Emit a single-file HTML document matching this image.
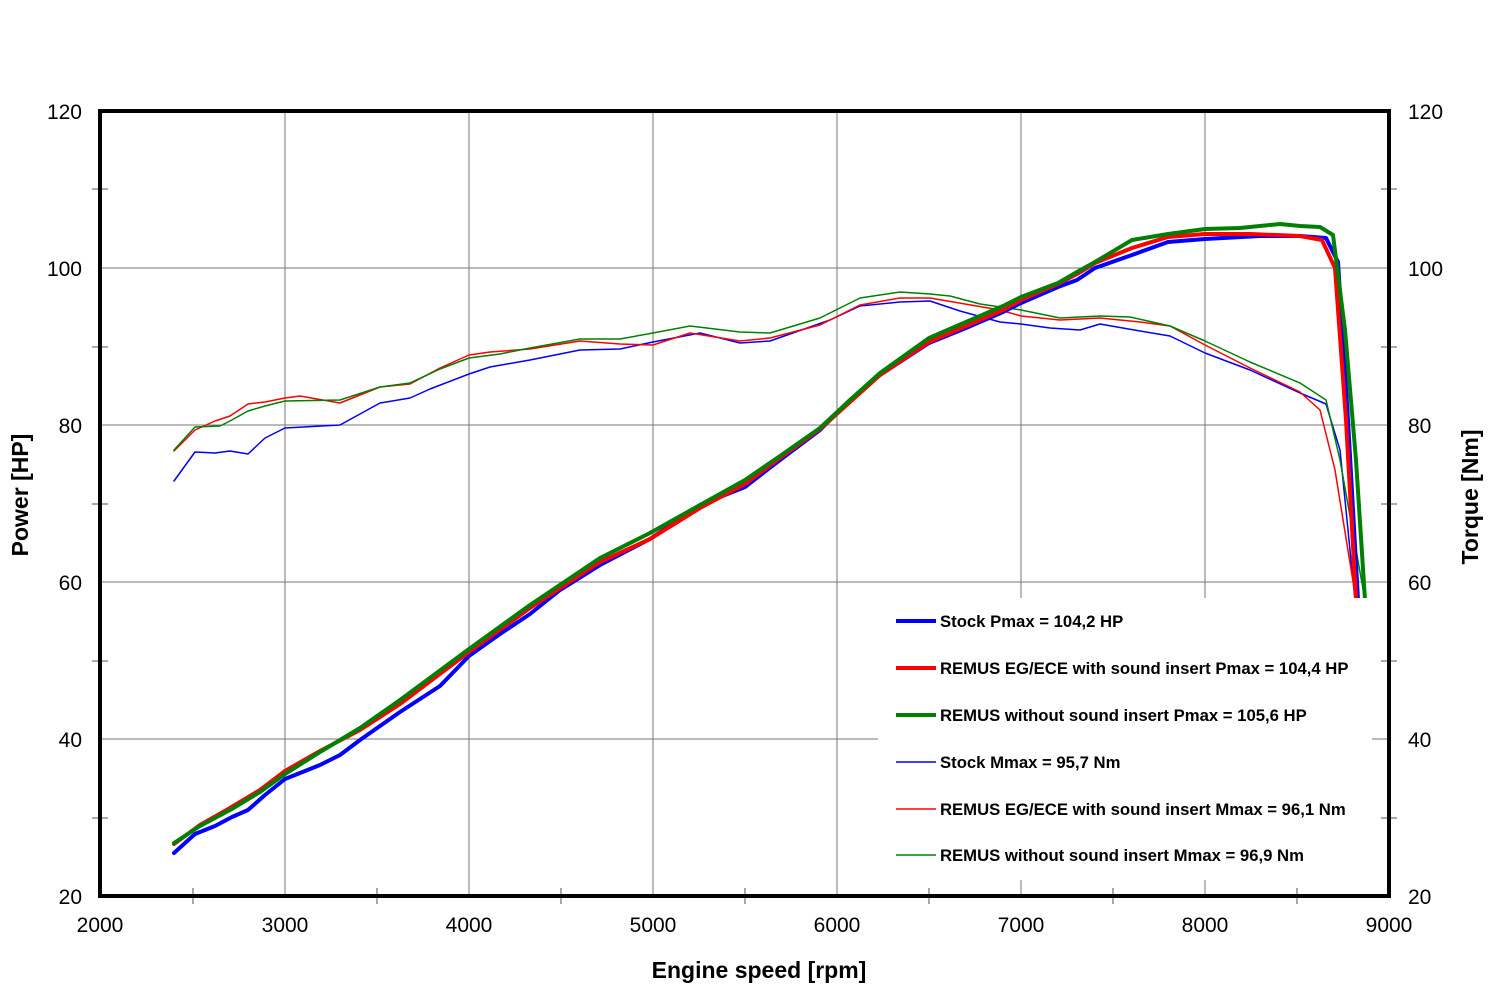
<!DOCTYPE html>
<html><head><style>body{margin:0;background:#fff}</style></head><body>
<svg width="1500" height="1000" xmlns="http://www.w3.org/2000/svg" font-family="Liberation Sans, Arial, sans-serif">
<rect width="1500" height="1000" fill="#fff"/>
<g stroke="#777" stroke-width="1">
<line x1="285" y1="111" x2="285" y2="896"/><line x1="469" y1="111" x2="469" y2="896"/><line x1="653" y1="111" x2="653" y2="896"/><line x1="837" y1="111" x2="837" y2="896"/><line x1="1021" y1="111" x2="1021" y2="896"/><line x1="1205" y1="111" x2="1205" y2="896"/>
<line x1="100" y1="268" x2="1389" y2="268"/><line x1="100" y1="425" x2="1389" y2="425"/><line x1="100" y1="582" x2="1389" y2="582"/><line x1="100" y1="739" x2="1389" y2="739"/>
</g>
<g stroke="#555" stroke-width="1">
<line x1="92" y1="189" x2="108" y2="189"/><line x1="92" y1="347" x2="108" y2="347"/><line x1="92" y1="504" x2="108" y2="504"/><line x1="92" y1="661" x2="108" y2="661"/><line x1="92" y1="818" x2="108" y2="818"/>
<line x1="1381" y1="189" x2="1397" y2="189"/><line x1="1381" y1="347" x2="1397" y2="347"/><line x1="1381" y1="504" x2="1397" y2="504"/><line x1="1381" y1="661" x2="1397" y2="661"/><line x1="1381" y1="818" x2="1397" y2="818"/>
<line x1="193" y1="888" x2="193" y2="904"/><line x1="377" y1="888" x2="377" y2="904"/><line x1="561" y1="888" x2="561" y2="904"/><line x1="745" y1="888" x2="745" y2="904"/><line x1="929" y1="888" x2="929" y2="904"/><line x1="1113" y1="888" x2="1113" y2="904"/><line x1="1297" y1="888" x2="1297" y2="904"/>
</g>
<g fill="none" stroke-linejoin="round" stroke-linecap="round">
<polyline stroke="#0000ff" stroke-width="1.5" points="174,481 195,452 215,453 230,451 248,454 265,438 285,428 340,425 380,403 410,398 430,389 469,374 490,367 530,360 580,350 620,349 653,342 700,333 740,343 770,341 830,320 860,306 900,302 930,301 960,311 1000,322 1021,324 1050,328 1080,330 1100,324 1140,331 1170,336 1205,353 1250,370 1300,393 1326,404 1340,450 1355,600"/>
<polyline stroke="#ff0000" stroke-width="1.5" points="174,451 195,430 215,421 230,416 248,404 265,402 285,398 300,396 340,403 380,387 410,384 440,368 469,355 490,352 530,349 580,341 620,344 653,345 690,333 740,341 770,338 820,325 860,305 900,298 930,298 1000,310 1021,316 1060,320 1100,318 1140,322 1170,326 1205,345 1250,368 1300,392 1320,410 1335,470 1356,600"/>
<polyline stroke="#008000" stroke-width="1.5" points="174,450 195,427 220,426 230,421 248,411 265,406 285,401 340,400 380,387 410,383 440,369 469,358 500,354 530,348 580,339 620,339 653,333 690,326 740,332 770,333 820,318 860,298 900,292 930,294 950,296 980,304 1021,310 1060,318 1100,316 1130,317 1170,326 1205,341 1250,362 1300,383 1326,400 1340,460 1365,600"/>
<polyline stroke="#0000ff" stroke-width="4" points="174,853 195,834 215,826 232,817 248,810 265,795 285,779 320,765 340,755 360,740 400,712 440,686 469,656 500,634 530,614 560,590 600,565 650,539 700,505 745,487 780,460 820,430 850,400 880,375 929,343 966,328 1003,312 1021,303 1058,287 1077,280 1095,268 1132,255 1168,242 1205,239 1260,236 1300,236 1326,238 1338,262 1348,420 1358,600"/>
<polyline stroke="#ff0000" stroke-width="4" points="174,844 200,825 230,808 260,790 285,771 320,751 360,730 400,704 469,652 530,608 600,562 650,539 700,508 745,484 780,458 820,429 850,402 880,375 929,342 966,326 1003,310 1021,300 1058,284 1077,274 1095,263 1132,248 1168,237 1205,234 1250,234 1300,236 1322,240 1335,268 1346,420 1356,600"/>
<polyline stroke="#008000" stroke-width="4" points="174,843 200,826 230,810 260,792 285,774 320,752 360,728 400,700 469,649 530,605 600,558 650,533 700,505 745,480 780,456 820,428 850,400 880,373 929,338 966,322 1003,306 1021,297 1058,283 1077,272 1095,262 1132,240 1168,234 1205,229 1240,228 1280,224 1300,226 1320,227 1333,235 1345,330 1356,460 1365,600"/>
</g>
<rect x="878" y="598" width="494" height="282" fill="#fff"/>
<g stroke-width="4"><line x1="896" y1="621" x2="936" y2="621" stroke="#0000ff"/><line x1="896" y1="668" x2="936" y2="668" stroke="#ff0000"/><line x1="896" y1="715" x2="936" y2="715" stroke="#008000"/></g>
<g stroke-width="1.5"><line x1="896" y1="762" x2="936" y2="762" stroke="#0000ff"/><line x1="896" y1="809" x2="936" y2="809" stroke="#ff0000"/><line x1="896" y1="855" x2="936" y2="855" stroke="#008000"/></g>
<g font-size="16.7" font-weight="bold" fill="#000">
<text x="940" y="627">Stock Pmax = 104,2 HP</text>
<text x="940" y="674">REMUS EG/ECE with sound insert Pmax = 104,4 HP</text>
<text x="940" y="721">REMUS without sound insert Pmax = 105,6 HP</text>
<text x="940" y="768">Stock Mmax = 95,7 Nm</text>
<text x="940" y="815">REMUS EG/ECE with sound insert Mmax = 96,1 Nm</text>
<text x="940" y="861">REMUS without sound insert Mmax = 96,9 Nm</text>
</g>
<rect x="100" y="111" width="1289" height="785" fill="none" stroke="#000" stroke-width="4"/>
<g font-size="21" fill="#000" text-anchor="end">
<text x="82" y="119">120</text><text x="82" y="276">100</text><text x="82" y="433">80</text><text x="82" y="590">60</text><text x="82" y="747">40</text><text x="82" y="904">20</text>
</g>
<g font-size="21" fill="#000">
<text x="1408" y="119">120</text><text x="1408" y="276">100</text><text x="1408" y="433">80</text><text x="1408" y="590">60</text><text x="1408" y="747">40</text><text x="1408" y="904">20</text>
</g>
<g font-size="21" fill="#000" text-anchor="middle">
<text x="100" y="932">2000</text><text x="285" y="932">3000</text><text x="469" y="932">4000</text><text x="653" y="932">5000</text><text x="837" y="932">6000</text><text x="1021" y="932">7000</text><text x="1205" y="932">8000</text><text x="1389" y="932">9000</text>
</g>
<g font-size="23" font-weight="bold" fill="#000" text-anchor="middle">
<text x="759" y="978">Engine speed [rpm]</text>
<text transform="translate(28,495) rotate(-90)">Power [HP]</text>
<text transform="translate(1478,497) rotate(-90)">Torque [Nm]</text>
</g>
</svg>
</body></html>
